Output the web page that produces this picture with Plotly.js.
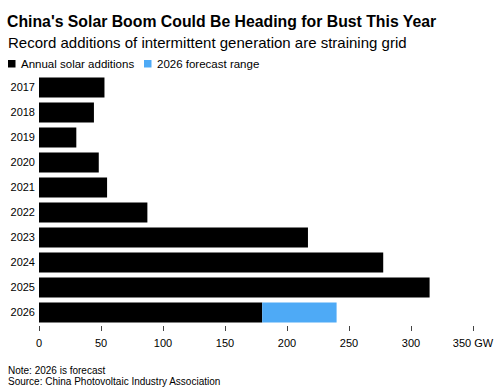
<!DOCTYPE html>
<html>
<head>
<meta charset="utf-8">
<script src="https://cdn.plot.ly/plotly-3.0.1.min.js"></script>
<style>html,body{margin:0;padding:0;background:#fff;}#chart{width:500px;height:390px;}</style>
</head>
<body>
<div id="chart"></div>
<script>
const years = ['2017','2018','2019','2020','2021','2022','2023','2024','2025','2026'];
const annualAdditions = [52.8, 44.3, 30.1, 48.2, 54.9, 87.4, 216.9, 277.6, 315.0, 180.0];
const forecastYear = ['2026'];
const forecastLow = [180];
const forecastHigh = [240];
const tickValues = [0, 50, 100, 150, 200, 250, 300, 350];
const tickLabels = ['0', '50', '100', '150', '200', '250', '300', '350 GW'];

const FONT = '"Liberation Sans", Arial, sans-serif';
const L = 39, R = 8, T = 75, B = 65, W = 500, H = 390;
const pw = W - L - R, ph = H - T - B;
const px = x => (x - L) / pw;
const py = y => (H - B - y) / ph;

const traces = [
  {
    type: 'bar', orientation: 'h', name: 'Annual solar additions',
    y: years, x: annualAdditions,
    marker: {color: '#000000'}, showlegend: false, hoverinfo: 'x+y'
  },
  {
    type: 'bar', orientation: 'h', name: '2026 forecast range',
    y: forecastYear, base: forecastLow,
    x: forecastHigh.map((h, i) => h - forecastLow[i]),
    marker: {color: '#4EAAF6'}, showlegend: false, hoverinfo: 'x+y'
  }
];

const layout = {
  width: W, height: H,
  margin: {l: L, r: R, t: T, b: B, pad: 0},
  paper_bgcolor: '#ffffff', plot_bgcolor: '#ffffff',
  barmode: 'overlay', bargap: 0.2,
  font: {family: FONT, color: '#000', size: 11},
  showlegend: false,
  xaxis: {
    range: [0, pw / 1.24], tickvals: tickValues, ticktext: tickLabels,
    showgrid: false, zeroline: false, showline: false,
    ticks: 'outside', ticklen: 5, tickwidth: 1, tickcolor: '#444',
    ticklabelstandoff: 3,
    tickfont: {size: 11, family: FONT, color: '#000'}, fixedrange: true
  },
  yaxis: {
    type: 'category', autorange: 'reversed',
    showgrid: false, zeroline: false, showline: false, ticks: '',
    ticklabelstandoff: 3,
    tickfont: {size: 11, family: FONT, color: '#000'}, fixedrange: true
  },
  title: {
    text: "<b>China's Solar Boom Could Be Heading for Bust This Year</b>",
    font: {family: FONT, size: 15.8, color: '#000'},
    xref: 'container', yref: 'container', x: 7 / W, xanchor: 'left',
    y: 1 - 21 / H, yanchor: 'middle', pad: {t: 0, b: 0, l: 0, r: 0}
  },
  shapes: [
    {type: 'rect', xref: 'paper', yref: 'paper', x0: px(8), x1: px(15.5), y0: py(67.5), y1: py(60), fillcolor: '#000000', line: {width: 0}},
    {type: 'rect', xref: 'paper', yref: 'paper', x0: px(144), x1: px(151.5), y0: py(67.5), y1: py(60), fillcolor: '#4EAAF6', line: {width: 0}}
  ],
  annotations: [
    {text: 'Record additions of intermittent generation are straining grid', xref: 'paper', yref: 'paper',
     x: px(7), y: py(42.5), xanchor: 'left', yanchor: 'middle', showarrow: false, borderpad: 0,
     font: {family: FONT, size: 15, color: '#000'}},
    {text: 'Annual solar additions', xref: 'paper', yref: 'paper',
     x: px(20), y: py(64), xanchor: 'left', yanchor: 'middle', showarrow: false, borderpad: 0,
     font: {family: FONT, size: 11.5, color: '#000'}},
    {text: '2026 forecast range', xref: 'paper', yref: 'paper',
     x: px(156), y: py(64), xanchor: 'left', yanchor: 'middle', showarrow: false, borderpad: 0,
     font: {family: FONT, size: 11.5, color: '#000'}},
    {text: 'Note: 2026 is forecast', xref: 'paper', yref: 'paper',
     x: px(7), y: py(370), xanchor: 'left', yanchor: 'middle', showarrow: false, borderpad: 0,
     font: {family: FONT, size: 10, color: '#000'}},
    {text: 'Source: China Photovoltaic Industry Association', xref: 'paper', yref: 'paper',
     x: px(7), y: py(381), xanchor: 'left', yanchor: 'middle', showarrow: false, borderpad: 0,
     font: {family: FONT, size: 10, color: '#000'}}
  ]
};

Plotly.newPlot('chart', traces, layout, {displayModeBar: false, staticPlot: true});
</script>
</body>
</html>
